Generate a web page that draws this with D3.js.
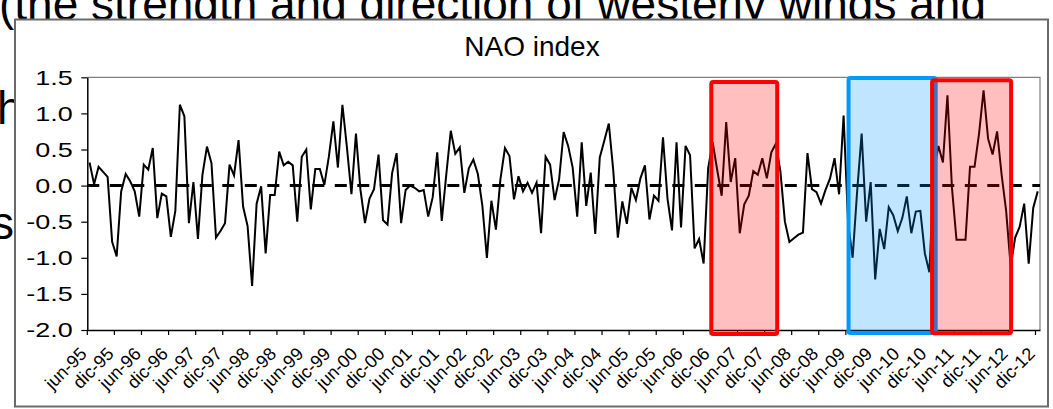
<!DOCTYPE html>
<html>
<head>
<meta charset="utf-8">
<script src="https://cdn.jsdelivr.net/npm/d3@7/dist/d3.min.js"></script>
<style>
  html, body { margin: 0; padding: 0; background: #fff; }
  svg { display: block; }
  text { font-family: "Liberation Sans", Arial, sans-serif; }
</style>
</head>
<body>
<svg id="chart" width="1053" height="409"></svg>
<script>
// ---------------- data ----------------
const title = "NAO index";
const backgroundLines = [
  "(the strength and direction of westerly winds and",
  "h",
  "s"
];
// monthly NAO index, jun-95 .. dic-12
const naoValues = [
  0.32, 0.02, 0.26, 0.19, 0.12, -0.78, -0.98, -0.08, 0.16, 0.06, -0.08, -0.43,
  0.29, 0.22, 0.52, -0.45, -0.11, -0.15, -0.71, -0.35, 1.12, 0.96, -0.52, 0.05,
  -0.74, 0.15, 0.54, 0.31, -0.72, -0.63, -0.52, 0.29, 0.14, 0.63, -0.29, -0.56,
  -1.39, -0.25, -0.01, -0.94, -0.13, -0.13, 0.47, 0.28, 0.33, 0.28, -0.50, 0.40,
  0.50, -0.33, 0.23, 0.23, 0.01, 0.40, 0.89, 0.25, 1.12, 0.53, -0.12, 0.72,
  -0.06, -0.52, -0.18, -0.05, 0.43, -0.48, -0.54, 0.17, 0.45, -0.52, -0.06, 0.00,
  -0.03, -0.08, -0.06, -0.43, -0.16, 0.46, -0.49, 0.15, 0.76, 0.44, 0.53, -0.10,
  0.24, 0.36, 0.16, -0.28, -1.00, -0.21, -0.61, 0.09, 0.52, 0.41, -0.19, 0.13,
  -0.08, 0.04, -0.10, 0.04, -0.66, 0.40, 0.29, -0.20, 0.09, 0.74, 0.55, 0.25,
  -0.43, 0.60, -0.28, 0.18, -0.67, 0.39, 0.62, 0.86, 0.20, -0.72, -0.22, -0.53,
  -0.03, -0.20, 0.10, 0.28, -0.47, -0.14, -0.21, 0.67, -0.18, -0.62, 0.60, -0.58,
  0.55, 0.42, -0.87, -0.74, -1.08, 0.24, 0.60, 0.22, -0.14, 0.88, 0.05, 0.38,
  -0.66, -0.26, -0.14, 0.20, 0.15, 0.38, 0.10, 0.46, 0.58, 0.20, -0.50, -0.78,
  -0.73, -0.68, -0.65, 0.45, -0.05, -0.09, -0.25, -0.06, 0.10, 0.38, -0.12, 0.97,
  -0.52, -1.00, -0.08, 0.72, -0.50, 0.05, -1.30, -0.60, -0.88, -0.30, -0.41, -0.63,
  -0.45, -0.15, -0.66, -0.36, -0.35, -0.94, -1.20, 0.20, 0.55, 0.32, 1.25, -0.03,
  -0.75, -0.75, -0.75, 0.26, 0.26, 0.72, 1.32, 0.65, 0.43, 0.75, 0.15, -0.35,
  -1.12, -0.72, -0.57, -0.25, -1.08, -0.31, -0.08
];
const tickLabels = [
  "jun-95","dic-95","jun-96","dic-96","jun-97","dic-97","jun-98","dic-98",
  "jun-99","dic-99","jun-00","dic-00","jun-01","dic-01","jun-02","dic-02",
  "jun-03","dic-03","jun-04","dic-04","jun-05","dic-05","jun-06","dic-06",
  "jun-07","dic-07","jun-08","dic-08","jun-09","dic-09","jun-10","dic-10",
  "jun-11","dic-11","jun-12","dic-12"
];
const labelStep = 6;                      // one label every 6 months
const yTicks = [-2.0, -1.5, -1.0, -0.5, 0.0, 0.5, 1.0, 1.5];
// highlighted periods (month index boundaries and value extent)
const highlightStart = [138.2, 168.6, 187.1];
const highlightEnd   = [152.8, 187.9, 204.6];
const highlightTop   = [1.435, 1.49, 1.46];
const highlightBot   = [-2.055, -2.04, -2.045];
const highlightKind  = ["pos", "neg", "pos"];

// ---------------- layout ----------------
const svg = d3.select("#chart");
const plot = {left: 87.3, right: 1040, top: 77.3, bottom: 330};
const SXY = 1.35;   // horizontal stretch of the y-axis labels

// background slide text (partly hidden behind the chart frame)
const bg = svg.append("g").attr("font-size", 46);
bg.append("text").attr("x", -1).attr("y", 20).text(backgroundLines[0]);
bg.append("text").attr("x", -3).attr("y", 124).text(backgroundLines[1]);
bg.append("text").attr("x", -9).attr("y", 239).text(backgroundLines[2]);

// chart frame
svg.append("rect").attr("x", 15).attr("y", 19.5).attr("width", 1033).attr("height", 387)
  .attr("fill", "#fff").attr("stroke", "#6a6a6a").attr("stroke-width", 2);

// title
svg.append("text")
  .attr("x", 532).attr("y", 56)
  .attr("text-anchor", "middle").attr("font-size", 28).text(title);

// scales
const n = naoValues.length;
const x = d3.scaleBand().domain(d3.range(n)).range([plot.left, plot.right]).padding(0);
const bw = x.bandwidth();
const xc = i => x(i) + bw / 2;
const xb = v => plot.left + v * bw;   // fractional month boundary
const y = d3.scaleLinear().domain([-2, 1.5]).range([plot.bottom, plot.top]);

// plot area border (top/right gray)
svg.append("path")
  .attr("d", `M${plot.left},${plot.top}H${plot.right}V${plot.bottom}`)
  .attr("fill", "none").attr("stroke", "#808080").attr("stroke-width", 1.2);

// y axis
const yAxis = svg.append("g").attr("transform", `translate(${plot.left},0)`)
  .call(d3.axisLeft(y).tickValues(yTicks).tickSize(6).tickSizeOuter(0).tickFormat(""));
yAxis.select(".domain").attr("stroke", "#000").attr("stroke-width", 1.5);
yAxis.selectAll(".tick line").attr("stroke", "#000").attr("stroke-width", 1.2);
svg.append("g").selectAll("text").data(yTicks).join("text")
  .attr("transform", d => `translate(${plot.left - 14.5},${y(d)}) scale(${SXY},1)`)
  .attr("text-anchor", "end").attr("dy", "0.36em").attr("font-size", 20)
  .text(d => d.toFixed(1));

// x axis
const tickIdx = d3.range(0, n, labelStep);
const xAxis = svg.append("g").attr("transform", `translate(0,${plot.bottom})`)
  .call(d3.axisBottom(x).tickValues(tickIdx).tickSize(5).tickSizeOuter(0).tickFormat(""));
xAxis.selectAll(".tick").attr("transform", d => `translate(${x(d)},0)`);
xAxis.select(".domain").attr("stroke", "#000").attr("stroke-width", 1.5);
xAxis.selectAll(".tick line").attr("stroke", "#000").attr("stroke-width", 1.2);
svg.append("g").selectAll("text").data(tickLabels).join("text")
  .attr("transform", (d, k) => `translate(${xb(k * labelStep) + 0.5},${plot.bottom + 25}) rotate(-45)`)
  .attr("text-anchor", "end").attr("font-size", 18)
  .text(d => d);

// data line
svg.append("path").datum(naoValues)
  .attr("d", d3.line().x((d, i) => xc(i)).y(d => y(d)))
  .attr("fill", "none").attr("stroke", "#000").attr("stroke-width", 2)
  .attr("stroke-linejoin", "miter");

// zero dashed line
svg.append("line").attr("x1", plot.left).attr("x2", plot.right)
  .attr("y1", y(0)).attr("y2", y(0))
  .attr("stroke", "#000").attr("stroke-width", 3).attr("stroke-dasharray", "12,10.5");

// highlight boxes
const colors = {pos: {stroke: "#ff0000", fill: "rgba(255,0,0,0.25)"},
                neg: {stroke: "#0099ff", fill: "rgba(0,153,255,0.25)"}};
svg.append("g").selectAll("rect").data(highlightStart).join("rect")
  .attr("x", d => xb(d))
  .attr("y", (d, i) => y(highlightTop[i]))
  .attr("width", (d, i) => xb(highlightEnd[i]) - xb(d))
  .attr("height", (d, i) => y(highlightBot[i]) - y(highlightTop[i]))
  .attr("rx", 2)
  .attr("fill", (d, i) => colors[highlightKind[i]].fill)
  .attr("stroke", (d, i) => colors[highlightKind[i]].stroke)
  .attr("stroke-width", 4);
</script>
</body>
</html>
